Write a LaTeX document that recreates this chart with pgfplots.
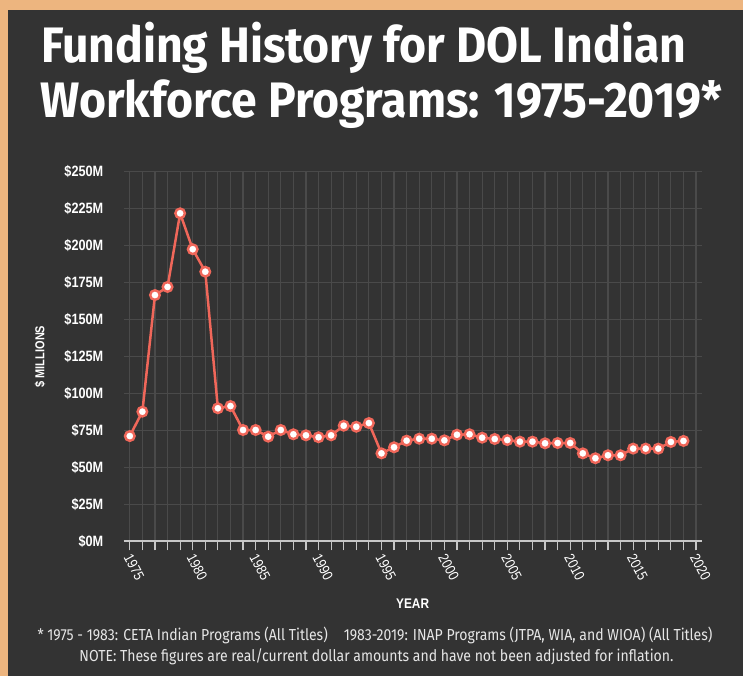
\documentclass[border=0pt]{standalone}
\usepackage{pgfplots}
\pgfplotsset{compat=1.18}
\usepackage{fontspec}
\setmainfont{Fira Sans}
\newfontfamily\titlefont[FakeStretch=0.93]{Fira Sans}
\newfontfamily\condbold[FakeStretch=0.85]{Liberation Sans}
\newfontfamily\notefont[FakeStretch=0.88]{Fira Sans}
\definecolor{bg}{HTML}{333333}
\definecolor{border}{HTML}{EDB57F}
\definecolor{coral}{HTML}{F0675A}
\definecolor{gridc}{HTML}{4A4A4A}
\definecolor{axisc}{HTML}{C8C8C8}
\definecolor{notec}{HTML}{E6E6E6}
\pgfplotstableread{
year val
1975 71.2
1976 87.7
1977 166.6
1978 172.1
1979 221.9
1980 197.6
1981 182.4
1982 90.0
1983 91.5
1984 75.3
1985 75.3
1986 70.8
1987 75.3
1988 72.4
1989 71.7
1990 70.4
1991 71.7
1992 78.2
1993 77.5
1994 80.0
1995 59.5
1996 63.6
1997 68.1
1998 69.4
1999 69.4
2000 68.3
2001 72.1
2002 72.4
2003 70.1
2004 69.2
2005 68.5
2006 67.4
2007 67.4
2008 66.3
2009 66.5
2010 66.5
2011 59.5
2012 56.2
2013 58.2
2014 58.2
2015 62.7
2016 62.7
2017 62.7
2018 67.2
2019 67.9
}\funding
\begin{document}
\begin{tikzpicture}[x=1bp,y=1bp]
\fill[border] (0,0) rectangle (743,676);
\fill[bg] (8,0) rectangle (743,666);
\node[anchor=base west, inner sep=0pt, text=white, font=\titlefont\bfseries\fontsize{50}{50}\selectfont] at (41,613) {Funding History for DOL Indian};
\node[anchor=base west, inner sep=0pt, text=white, font=\titlefont\bfseries\fontsize{50}{50}\selectfont] at (40,558) {Workforce Programs: 1975-2019*};
\begin{axis}[
  at={(123.5bp,134.7bp)}, anchor=south west,
  scale only axis, width=578.2bp, height=369.5bp,
  xmin=1974.5, xmax=2020.45, ymin=0, ymax=250,
  xtick={1975,1980,...,2020},
  xticklabels={1975,1980,1985,1990,1995,2000,2005,2010,2015,2020},
  minor xtick={1975,1976,...,2020},
  ytick={0,25,...,250},
  yticklabels={\$0M,\$25M,\$50M,\$75M,\$100M,\$125M,\$150M,\$175M,\$200M,\$225M,\$250M},
  grid=both,
  major grid style={gridc, line width=1.2bp},
  minor grid style={gridc, line width=1.2bp},
  separate axis lines,
  axis x line=bottom, axis y line=left,
  x axis line style={-, draw=axisc, line width=1.8bp},
  y axis line style={draw=none},
  xtick align=outside,
  major tick length=9bp, minor tick length=9bp,
  xtick style={draw=axisc, line width=1.2bp},
  ytick style={draw=none},
  ticklabel style={text=white, font=\condbold\bfseries\fontsize{15}{15}\selectfont},
  yticklabel style={anchor=east, inner sep=0pt, xshift=-15.5bp},
  xticklabel style={rotate=-62, anchor=west, inner sep=0pt, xshift=3bp, yshift=-4bp, font=\condbold\fontsize{14.5}{14.5}\selectfont},
  xlabel={YEAR},
  xlabel style={at={(axis description cs:0.5,0)}, anchor=center, yshift=-62bp, text=white, font=\condbold\bfseries\fontsize{14}{14}\selectfont},
  ylabel={\$ MILLIONS},
  ylabel style={at={(axis description cs:0,0.5)}, anchor=center, yshift=83.5bp, text=white, font=\condbold\bfseries\fontsize{13}{13}\selectfont},
]
\addplot[coral, line width=2.5bp, mark=*, mark size=4.8bp, mark options={fill=white, draw=coral, line width=2.4bp}] table[x=year, y=val] {\funding};
\end{axis}
\node[anchor=base, inner sep=0pt, text=notec, font=\notefont\fontsize{16}{16}\selectfont] at (375,35) {* 1975 - 1983: CETA Indian Programs (All Titles)\quad 1983-2019: INAP Programs (JTPA, WIA, and WIOA) (All Titles)};
\node[anchor=base, inner sep=0pt, text=notec, font=\notefont\fontsize{16}{16}\selectfont] at (376.5,14) {NOTE: These figures are real/current dollar amounts and have not been adjusted for inflation.};
\end{tikzpicture}
\end{document}
